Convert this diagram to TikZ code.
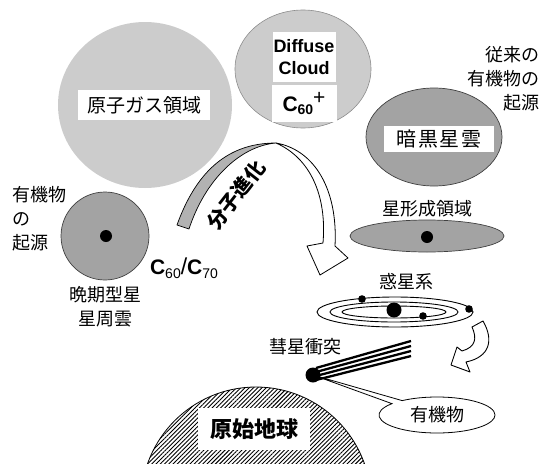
\documentclass[tikz,border=0pt]{standalone}
\usepackage{fontspec}
\setmainfont{Liberation Sans}
\newfontfamily\jp{Noto Sans CJK JP}
\usetikzlibrary{shapes.callouts,patterns.meta}

\begin{document}
\begin{tikzpicture}[x=1pt,y=-1pt,
  lightgas/.style={fill=black!20},
  densegas/.style={fill=black!36,draw=black!75,line width=0.7pt},
  labelbox/.style={fill=white,inner sep=0pt},
  jtext/.style={font=\jp\fontsize{18pt}{24pt}\selectfont,inner sep=0pt},
  orbit/.style={draw=black,line width=0.9pt},
  outlined/.style={draw=black,line width=0.8pt,line join=round}
]
\useasboundingbox (0,0) rectangle (543,463);
\clip (0,0) rectangle (543,463);

% atomic gas region
\fill[lightgas] (145,105) ellipse [x radius=87,y radius=83];
\node[labelbox,minimum width=132pt,minimum height=30pt,
      font=\jp\fontsize{19pt}{22pt}\selectfont] (atomgas) at (144,105) {原子ガス領域};

% diffuse cloud
\draw[lightgas,draw=black!45,line width=0.6pt] (303,69) ellipse [x radius=68,y radius=59];
\node[labelbox,minimum width=63pt,minimum height=50pt,align=center,
      font=\bfseries\fontsize{18pt}{22pt}\selectfont] (diffuse) at (304,57) {Diffuse\\Cloud};
\node[labelbox,minimum width=65pt,minimum height=37pt,
      font=\bfseries\fontsize{21pt}{24pt}\selectfont] (cplus) at (304,103.5)
      {C\raisebox{-0.3ex}{\fontsize{14pt}{14pt}\selectfont 60}\raisebox{0.6ex}{\mdseries +}};

% dark cloud
\draw[densegas] (434,137) ellipse [x radius=68,y radius=49];
\node[labelbox,minimum width=110pt,minimum height=26pt,
      font=\jp\fontsize{20pt}{22pt}\selectfont\addfontfeature{LetterSpace=8}] (darkcloud) at (439,139) {暗黒星雲};
\node[jtext,align=right,anchor=east] (oldorigin) at (540,79) {従来の\\有機物の\\起源};

% star forming region
\node[jtext] (sflabel) at (427,209) {星形成領域};
\draw[densegas] (427,236) ellipse [x radius=77,y radius=16];
\fill (427,237) circle [radius=6];

% planetary system
\node[jtext] (pslabel) at (406,282) {惑星系};
\draw[orbit] (395,312) ellipse [x radius=78,y radius=15];
\draw[orbit] (394,312) ellipse [x radius=64,y radius=10];
\draw[orbit] (394,312) ellipse [x radius=52,y radius=6];
\fill (394,310) circle [radius=7.5];
\fill (362,299) circle [radius=3.8];
\fill (423,316) circle [radius=3.8];
\fill (469,309) circle [radius=3.8];

% late-type star envelope
\node[jtext,align=left,anchor=west] (neworigin) at (12,219) {有機物\\の\\起源};
\draw[densegas] (105,236) circle [radius=44];
\fill (106,236) circle [radius=6];
\node[inner sep=0pt,font=\fontsize{21pt}{24pt}\selectfont] (c6070) at (184,268)
  {\textbf{C}\raisebox{-0.35ex}{\fontsize{14pt}{14pt}\selectfont 60}\fontsize{23pt}{24pt}\selectfont/\fontsize{21pt}{24pt}\selectfont\textbf{C}\raisebox{-0.35ex}{\fontsize{14pt}{14pt}\selectfont 70}};
\node[jtext,align=center] (latestar) at (105,307) {晩期型星\\星周雲};

% molecular evolution ribbon arrow
\filldraw[fill=black!30,outlined,line width=0.7pt]
  (177,225) .. controls (195,175) and (225,143) .. (276,143)
  .. controls (240,146) and (205,180) .. (189,229) -- cycle;
\draw[fill=white,outlined]
  (276,143) .. controls (315,150) and (338,190) .. (335,246)
  -- (348,258) -- (320,275) -- (307,246) -- (323,243)
  .. controls (327,195) and (310,158) .. (276,143) -- cycle;
\node[rotate=52,inner sep=0pt,font=\jp\bfseries\fontsize{20pt}{24pt}\selectfont] (evol) at (236,195) {分子進化};

% arrow from planetary system to the early Earth
\draw[fill=white,outlined,line width=0.9pt]
  (472,327) -- (483,321) .. controls (494,340) and (490,357) .. (466,362)
  -- (470,372) -- (451,365) -- (457,347) -- (462,351)
  .. controls (476,347) and (477,338) .. (472,327) -- cycle;

% comet impact
\node[jtext] (cometlabel) at (305,347) {彗星衝突};
\coordinate (comet) at (313,375);
\node[ellipse callout,draw,fill=white,line width=0.8pt,minimum width=116pt,minimum height=36pt,
      callout absolute pointer={(comet)},callout pointer arc=14,jtext] (organic) at (437,415) {有機物};
\foreach \a/\b in {368/341,372/346,376/351,380/356}
  \draw[line width=2.3pt] (316,\a) -- (411,\b);
\fill (comet) circle [radius=7.5];

% early Earth
\draw[line width=0.8pt,pattern={Lines[angle=45,distance=3pt,line width=0.9pt]}]
  (256,502) circle [radius=115];
\node[labelbox,minimum width=112pt,minimum height=42pt,
      font=\jp\bfseries\fontsize{22pt}{26pt}\selectfont] (earth) at (254,429) {原始地球};
\end{tikzpicture}
\end{document}
